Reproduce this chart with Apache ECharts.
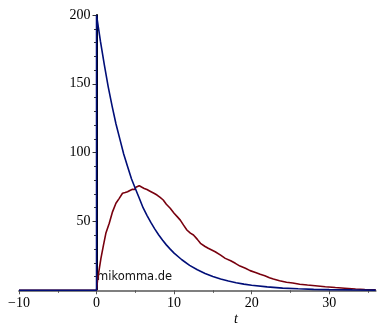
<!DOCTYPE html>
<html>
<head>
<meta charset="utf-8">
<script src="https://cdn.jsdelivr.net/npm/echarts@6/dist/echarts.min.js"></script>
<style>
  html, body { margin: 0; padding: 0; background: #ffffff; }
  #chart { width: 382px; height: 333px; }
</style>
</head>
<body>
<div id="chart"></div>
<script>
// Intermediate species (stochastic run): time and particle count
const redT = [-10, 0, 0.13, 0.56, 0.9, 1.2, 1.64, 2.06, 2.5, 2.93, 3.35, 3.7, 4.0, 4.3, 4.64, 4.9, 5.07, 5.5, 5.8,
  6.15, 6.5, 6.9, 7.4, 7.8, 8.2, 8.6, 9.0, 9.5, 10.0, 10.4, 10.8, 11.2, 11.65, 12.1, 12.5, 13.0, 13.4, 14.0, 14.4,
  15.3, 16.0, 16.6, 17.3, 17.9, 18.5, 19.2, 19.8, 20.5, 21.1, 21.7, 22.3, 22.8, 23.6, 24.5, 25.3, 26.2, 27.2, 28.2,
  29.5, 30.8, 32.0, 33.4, 34.6, 36.0];
const redN = [0, 0, 7.5, 23, 33, 41.4, 48.7, 57, 63.2, 66.8, 70.5, 71, 71.6, 72.5, 73.4, 73.2, 74.8, 76, 75,
  74, 73.2, 72, 70.5, 69.2, 67.5, 65.6, 62.5, 59.6, 56, 53.5, 51, 47.5, 43.8, 41.5, 40.2, 37, 34.1, 31.8, 30.5,
  28, 25.5, 23.2, 21.5, 19.6, 17.6, 16, 14.3, 13, 11.6, 10.6, 9.2, 8.2, 7, 5.8, 5.3, 4.4, 3.8, 3.3,
  2.6, 2.0, 1.5, 0.9, 0.6, 0.4];

// Initial species: decay from 200
const blueT = [-10, 0, 0, 0.5, 1, 1.5, 2, 2.5, 3, 3.5, 4, 4.5, 5, 5.5, 6, 6.5, 7, 7.5, 8, 8.5, 9, 9.5, 10,
  11, 12, 13, 14, 15, 16, 17, 18, 19, 20, 22, 24, 26, 28, 30, 33, 36];
const blueN = [0, 0, 200, 181, 164, 148, 134, 121, 110, 99, 90, 81, 74, 67, 60, 54.5, 49.3, 44.6, 40.4, 36.5, 33, 29.9, 27,
  22.2, 18.1, 14.9, 12.2, 10, 8.2, 6.7, 5.5, 4.5, 3.7, 2.5, 1.6, 1.1, 0.7, 0.5, 0.3, 0.15];

// Axis ticks
const xMajorTicks = [-10, 0, 10, 20, 30];
const xMinorTicks = [-5, 5, 15, 25, 35];

const zip = (xs, ys) => xs.map((x, i) => [x, ys[i]]);
const minus = v => String(v).replace('-', '\u2212');

const chart = echarts.init(document.getElementById('chart'), null, { renderer: 'canvas' });

const serif = 'Liberation Serif, Times New Roman, serif';
const gridLeft = 19, gridRight = 6.3, xMin = -10, xMax = 36;
// shift the value axis so it crosses the time axis at t = 0
const plotWidth = 382 - gridLeft - gridRight;
const yAxisShift = -plotWidth * (0 - xMin) / (xMax - xMin);

chart.setOption({
  animation: false,
  backgroundColor: '#ffffff',
  grid: { left: gridLeft, right: gridRight, top: 15, bottom: 42.7, outerBoundsMode: 'none', containLabel: false },
  xAxis: [
    {
      type: 'value', min: xMin, max: xMax, interval: 10,
      splitLine: { show: false },
      axisLine: { onZero: true, lineStyle: { color: '#7f7f7f', width: 2 } },
      axisTick: { show: true, customValues: xMajorTicks, length: 4, lineStyle: { color: '#555', width: 1 } },
      axisLabel: {
        customValues: xMajorTicks, margin: 6,
        fontFamily: serif, fontSize: 14, color: '#000',
        formatter: minus
      }
    },
    {
      type: 'value', min: xMin, max: xMax, position: 'bottom',
      splitLine: { show: false },
      axisLine: { show: false, onZero: true },
      axisTick: { show: true, customValues: xMinorTicks, length: 2.5, lineStyle: { color: '#555', width: 1 } },
      axisLabel: { show: false }
    }
  ],
  yAxis: {
    type: 'value', min: 0, max: 200, interval: 50,
    position: 'left', offset: yAxisShift,
    splitLine: { show: false },
    axisLine: { onZero: false, lineStyle: { color: '#000', width: 2 } },
    axisTick: { show: true, length: 4, lineStyle: { color: '#333', width: 1 } },
    minorTick: { show: true, splitNumber: 5, length: 2.5, lineStyle: { color: '#333', width: 1 } },
    axisLabel: {
      showMinLabel: false, margin: 6,
      fontFamily: serif, fontSize: 14, color: '#000'
    }
  },
  series: [
    {
      type: 'line', xAxisIndex: 0, data: zip(redT, redN),
      showSymbol: false, clip: false,
      lineStyle: { color: '#78000E', width: 1.6 }
    },
    {
      type: 'line', xAxisIndex: 0, data: zip(blueT, blueN),
      showSymbol: false, clip: false,
      lineStyle: { color: '#000E78', width: 1.6 }
    }
  ],
  graphic: [
    {
      type: 'text', left: 97, top: 271,
      style: { text: 'mikomma.de', font: '11.5px "DejaVu Sans", Verdana, sans-serif', fill: '#111' }
    },
    {
      type: 'text', left: 234, top: 312,
      style: { text: 't', font: 'italic 14px "Liberation Serif", serif', fill: '#000' }
    }
  ]
});
</script>
</body>
</html>
